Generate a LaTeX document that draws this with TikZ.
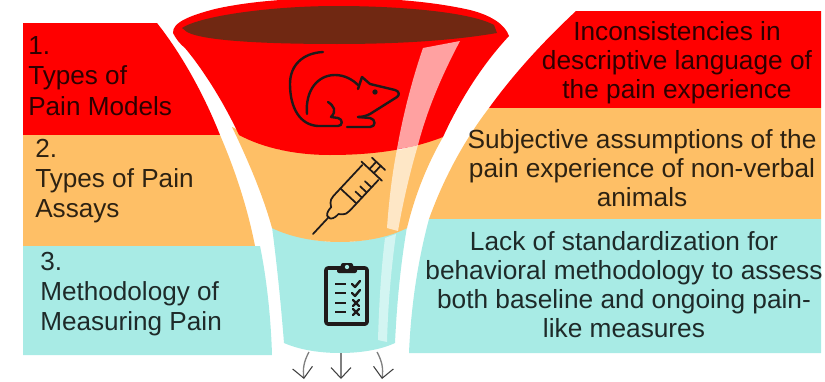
\documentclass[tikz,border=0pt]{standalone}
\usepackage{fontspec}
\setmainfont{Liberation Sans}
\usetikzlibrary{arrows.meta}
\definecolor{painred}{HTML}{FF0000}
\definecolor{painorange}{HTML}{FEBF66}
\definecolor{painteal}{HTML}{A8EBE5}
\definecolor{painbrown}{HTML}{702812}
\definecolor{icondark}{HTML}{1F1A1A}
\tikzset{
	lefttext/.style={anchor=west, align=left, inner sep=0pt, text=black, text opacity=0.82,
		font=\fontsize{19.6}{22.7}\selectfont},
	righttext/.style={anchor=center, align=center, inner sep=0pt, text=black, text opacity=0.82,
		font=\fontsize{19.7}{21.7}\selectfont},
	iconline/.style={draw=icondark, line width=1.8pt, line cap=round, line join=round},
	syringeline/.style={iconline, line width=1.3pt},
	outarrow/.style={line width=1pt, black!50, -{Straight Barb[length=8pt, width=15pt, line width=0.8pt, color=black!75]}},
}
\begin{document}
\begin{tikzpicture}[x=0.75pt, y=-0.75pt]
	\useasboundingbox (0,0) rectangle (825,382);
	% side panels, left
	\fill[painred] (23,23) -- (157,23) .. controls (180,52) and (203,92) .. (220,135) -- (23,135) -- cycle;
	\fill[painorange] (23,135) -- (220,135) .. controls (236,172) and (248,210) .. (255,246) -- (23,246) -- cycle;
	\fill[painteal] (23,246) -- (260,246) .. controls (267,280) and (271,320) .. (272,355) -- (23,355) -- cycle;
	% side panels, right
	\fill[painred] (576,11) -- (821,11) -- (821,108) -- (489,108) .. controls (515,72) and (545,40) .. (576,11) -- cycle;
	\fill[painorange] (489,108) -- (821,108) -- (821,219) -- (429,219) .. controls (443,180) and (463,142) .. (489,108) -- cycle;
	\fill[painteal] (429,219) -- (821,219) -- (821,353) -- (409,353) .. controls (411,305) and (418,260) .. (429,219) -- cycle;
	% funnel, bottom part first
	\fill[painteal] (272,227) .. controls (277,265) and (281,305) .. (284,343)
		.. controls (300,350) and (320,353) .. (340,353)
		.. controls (360,353) and (380,350) .. (395,343)
		.. controls (397,300) and (401,262) .. (407,227)
		.. controls (390,236) and (365,242) .. (340,242)
		.. controls (315,242) and (290,236) .. (272,227) -- cycle;
	\fill[painorange] (232,127) .. controls (247,158) and (263,195) .. (272,228)
		.. controls (290,237) and (315,242) .. (340,242)
		.. controls (365,242) and (390,237) .. (407,228)
		.. controls (415,195) and (427,165) .. (443,137) -- (400,150) -- (280,150) -- cycle;
	\fill[painred] (173,33) .. controls (176,39) and (180,44) .. (185,48)
		.. controls (205,72) and (225,105) .. (239,135)
		.. controls (265,149) and (298,155) .. (330,155)
		.. controls (372,155) and (410,150) .. (443,137)
		.. controls (460,100) and (482,65) .. (509,36)
		.. controls (505,24) and (490,15) .. (470,10)
		.. controls (430,1) and (385,-2) .. (340,-2)
		.. controls (295,-2) and (250,1) .. (215,9)
		.. controls (192,15) and (172,22) .. (173,33) -- cycle;
	\fill[painbrown] (182,28) .. controls (200,16) and (270,6) .. (337,6)
		.. controls (400,6) and (470,12) .. (494,25)
		-- (497,33) .. controls (450,41) and (395,44) .. (337,44)
		.. controls (280,44) and (205,42) .. (187,32) -- cycle;
	% shine on the funnel
	\fill[white, opacity=0.63] (423,48) -- (460,41) .. controls (442,75) and (427,110) .. (418,145)
		.. controls (411,147) and (404,148) .. (397,149) .. controls (403,115) and (412,80) .. (423,48) -- cycle;
	\fill[white, opacity=0.63] (397,149) .. controls (404,148) and (411,147) .. (418,145)
		.. controls (410,172) and (403,202) .. (398,231) -- (387,228) .. controls (389,200) and (392,175) .. (397,149) -- cycle;
	\fill[white, opacity=0.5] (385,238) -- (396,234) .. controls (391,270) and (388,305) .. (387,342) -- (378,340)
		.. controls (379,305) and (381,270) .. (385,238) -- cycle;
	% rat
	\draw[iconline] (323,52) .. controls (303,53) and (290,65) .. (290,84)
		.. controls (290,108) and (300,125) .. (318,126) -- (338,126)
		.. controls (343,126) and (343,119) .. (338,118) -- (331,117)
		.. controls (337,111) and (334,106) .. (328,102);
	\draw[iconline] (307,114) .. controls (305,90) and (318,75) .. (335,75)
		.. controls (345,75) and (353,80) .. (358,85);
	\draw[iconline] (358,89) -- (362,77) -- (370,84) -- (395,90)
		.. controls (399,91) and (400,95) .. (397,97)
		-- (370,114) .. controls (366,116) and (362,117) .. (358,117);
	\draw[iconline] (358,117) -- (370,118) .. controls (376,119) and (376,127) .. (370,127) -- (347,127);
	\fill[icondark] (375,92) circle (2pt);
	% syringe
	\begin{scope}[shift={(313,234)}, rotate=47]
		\draw[syringeline] (0,0) -- (23,0);
		\draw[syringeline] (23,-2) -- (23,2) .. controls (25,5) and (30,5) .. (32,5)
			.. controls (36,11) and (39,11) .. (42,11) -- (84,11);
		\draw[syringeline] (23,-2) .. controls (25,-5) and (30,-5) .. (32,-5)
			.. controls (36,-11) and (39,-11) .. (42,-11) -- (84,-11);
		\draw[syringeline] (52,-11) -- (52,11);
		\draw[syringeline] (86,-14) -- (86,14);
		\draw[syringeline] (86,-3) -- (96,-3) (86,3) -- (96,3);
		\draw[syringeline] (96,-9) -- (96,9);
		\foreach \t in {60,67,74} {
			\draw[syringeline] (\t,11) -- (\t,2);
		}
	\end{scope}
	% clipboard
	\draw[iconline, line width=2.7pt, rounded corners=1.5pt] (326,268) rectangle (367,324);
	\fill[icondark, rounded corners=1.5pt] (337,273) -- (337,267) -- (341,267) -- (341,263)
		-- (353,263) -- (353,267) -- (357,267) -- (357,273) -- cycle;
	\fill[painteal] (347,267) circle (1.6pt);
	\foreach \y in {284,293,303,312} {
		\draw[icondark, line width=2.1pt] (335,\y) -- (346,\y);
	}
	\foreach \y in {284,293} {
		\draw[iconline] (352,\y) -- (355,\y+3) -- (360,\y-3);
	}
	\foreach \y in {303,312} {
		\draw[iconline] (353,\y-3) -- (359,\y+3) (359,\y-3) -- (353,\y+3);
	}
	% labels
	\foreach \n/\p/\l in {%
		modelsnote/{28,76}/{1.\\Types of\\Pain Models},
		assaysnote/{35,181}/{2.\\Types of Pain\\Assays},
		measurenote/{40,294}/{3.\\Methodology of\\Measuring Pain}} {
		\node[lefttext] (\n) at (\p) {\l};
	}
	\node[righttext] (languagenote) at (677,63) {Inconsistencies in\\descriptive language of\\the pain experience};
	\node[righttext] (subjectnote) at (642,168) {Subjective assumptions of the\\pain experience of non-verbal\\animals};
	\node[righttext] (standardnote) at (624,285) {Lack of standardization for\\behavioral methodology to assess\\both baseline and ongoing pain-\\like measures};
	% outflow
	\coordinate (outleftstart) at (309,352);
	\coordinate (outleftend) at (304,379);
	\coordinate (outmidstart) at (341,353);
	\coordinate (outmidend) at (341,379);
	\coordinate (outrightstart) at (377,352);
	\coordinate (outrightend) at (382,379);
	\draw[outarrow] (outleftstart) to[bend right=18] (outleftend);
	\draw[outarrow] (outmidstart) -- (outmidend);
	\draw[outarrow] (outrightstart) to[bend left=18] (outrightend);
\end{tikzpicture}
\end{document}
